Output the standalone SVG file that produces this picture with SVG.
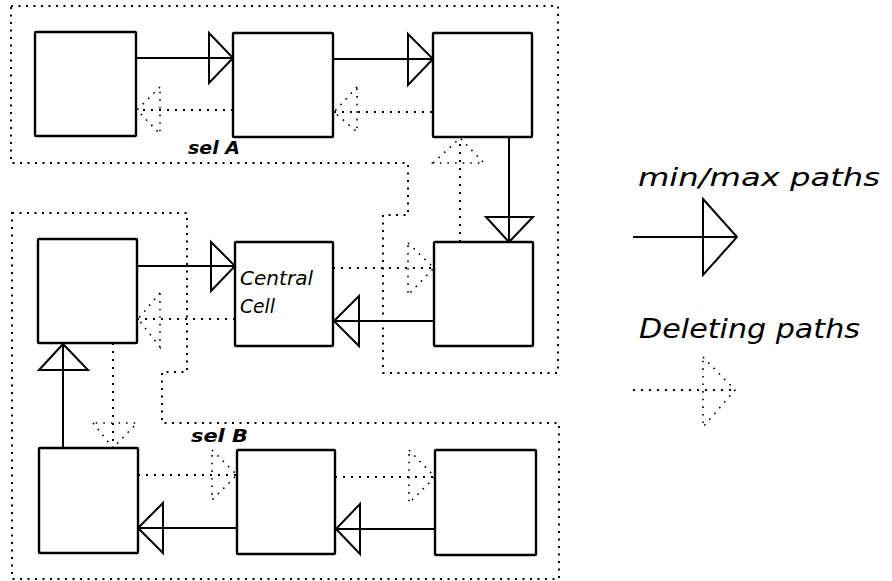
<svg xmlns="http://www.w3.org/2000/svg" width="892" height="581" viewBox="0 0 892 581">
<style>
.box{fill:#fff;stroke:#000;stroke-width:2.4}
.solid{fill:none;stroke:#000;stroke-width:2}
.tri{fill:none;stroke:#000;stroke-width:2;stroke-linejoin:miter}
.dot{fill:none;stroke:#000;stroke-width:2;stroke-dasharray:2 6}
.dtri{fill:none;stroke:#000;stroke-width:1.6;stroke-dasharray:1.6 6}
.region{fill:none;stroke:#000;stroke-width:2;stroke-dasharray:2 5.5}
.lbl{font-family:"DejaVu Sans","Liberation Sans",sans-serif;font-style:italic;fill:#000}
</style>
<rect width="892" height="581" fill="#fff"/>
<g id="regions">
<polygon id="selA" class="region" points="11,6 558,6 558,373 383,373 383,215 408,215 408,163 11,163"/>
<polygon id="selB" class="region" points="12,213 187,213 187,372 162,372 162,423 559,423 559,579 12,579"/>
</g>
<g id="connectors">
<!-- solid min/max paths -->
<line class="solid" x1="136" y1="58" x2="233" y2="58"/><polygon class="tri" points="209,33 233,58 209,83"/>
<line class="solid" x1="333" y1="59" x2="433" y2="59"/><polygon class="tri" points="408,34 433,59 408,85"/>
<line class="solid" x1="509" y1="137" x2="509" y2="242"/><polygon class="tri" points="486,217 509,242 533,217"/>
<line class="solid" x1="434" y1="321" x2="333" y2="321"/><polygon class="tri" points="359,296 334,321 359,346"/>
<line class="solid" x1="137" y1="266" x2="235" y2="266"/><polygon class="tri" points="211,242 235,266 211,291"/>
<line class="solid" x1="63" y1="448" x2="63" y2="343"/><polygon class="tri" points="39,370 63,344 88,370"/>
<line class="solid" x1="237" y1="528" x2="138" y2="528"/><polygon class="tri" points="163,503 138,528 163,553"/>
<line class="solid" x1="435" y1="529" x2="335" y2="529"/><polygon class="tri" points="360,504 336,529 360,554"/>
<!-- dotted deleting paths -->
<line class="dot" x1="233" y1="110" x2="137" y2="110"/><polygon class="dtri" points="160,87 137,110 160,134"/>
<line class="dot" x1="432" y1="112" x2="334" y2="112"/><polygon class="dtri" points="357,87 334,112 357,132"/>
<line class="dot" x1="460" y1="242" x2="460" y2="138"/><polygon class="dtri" points="433,163 460,138 484,163"/>
<line class="dot" x1="333" y1="268" x2="434" y2="268"/><polygon class="dtri" points="408,243 434,268 408,295"/>
<line class="dot" x1="235" y1="319" x2="138" y2="319"/><polygon class="dtri" points="160,293 138,319 160,347"/>
<line class="dot" x1="113" y1="343" x2="113" y2="448"/><polygon class="dtri" points="93,423 113,448 137,423"/>
<line class="dot" x1="138" y1="475" x2="237" y2="475"/><polygon class="dtri" points="212,450 237,475 212,500"/>
<line class="dot" x1="335" y1="477" x2="435" y2="477"/><polygon class="dtri" points="409,450 435,477 409,503"/>
</g>
<g id="A1"><rect class="box" x="35" y="32" width="101" height="104" rx="1"/></g>
<g id="A2"><rect class="box" x="233" y="33" width="100" height="104" rx="1"/></g>
<g id="A3"><rect class="box" x="433" y="33" width="99" height="104" rx="1"/></g>
<g id="B1"><rect class="box" x="38" y="239" width="99" height="104" rx="1"/></g>
<g id="central"><rect class="box" x="235" y="242" width="98" height="104" rx="1"/>
<text class="lbl" x="240" y="285" font-size="19" textLength="73" lengthAdjust="spacingAndGlyphs">Central</text>
<text class="lbl" x="240" y="313" font-size="19" textLength="35" lengthAdjust="spacingAndGlyphs">Cell</text></g>
<g id="R"><rect class="box" x="434" y="242" width="99" height="104" rx="1"/></g>
<g id="C1"><rect class="box" x="39" y="448" width="99" height="105" rx="1"/></g>
<g id="C2"><rect class="box" x="237" y="450" width="98" height="104" rx="1"/></g>
<g id="C3"><rect class="box" x="435" y="450" width="101" height="105" rx="1"/></g>
<g id="labels">
<text class="lbl" x="188" y="154" font-size="18" font-weight="bold" textLength="52" lengthAdjust="spacingAndGlyphs">sel A</text>
<text class="lbl" x="191" y="442" font-size="18" font-weight="bold" textLength="57" lengthAdjust="spacingAndGlyphs">sel B</text>
</g>
<g id="legend">
<text class="lbl" x="638" y="186" font-size="24" textLength="242" lengthAdjust="spacingAndGlyphs">min/max paths</text>
<line class="solid" x1="633" y1="237" x2="737" y2="237"/><polygon class="tri" points="703,199 737,237 703,275"/>
<text class="lbl" x="639" y="338" font-size="26" textLength="221" lengthAdjust="spacingAndGlyphs">Deleting paths</text>
<line class="dot" x1="633" y1="390" x2="735" y2="390"/><polygon class="dtri" points="703,357 735,390 703,427"/>
</g>
</svg>
